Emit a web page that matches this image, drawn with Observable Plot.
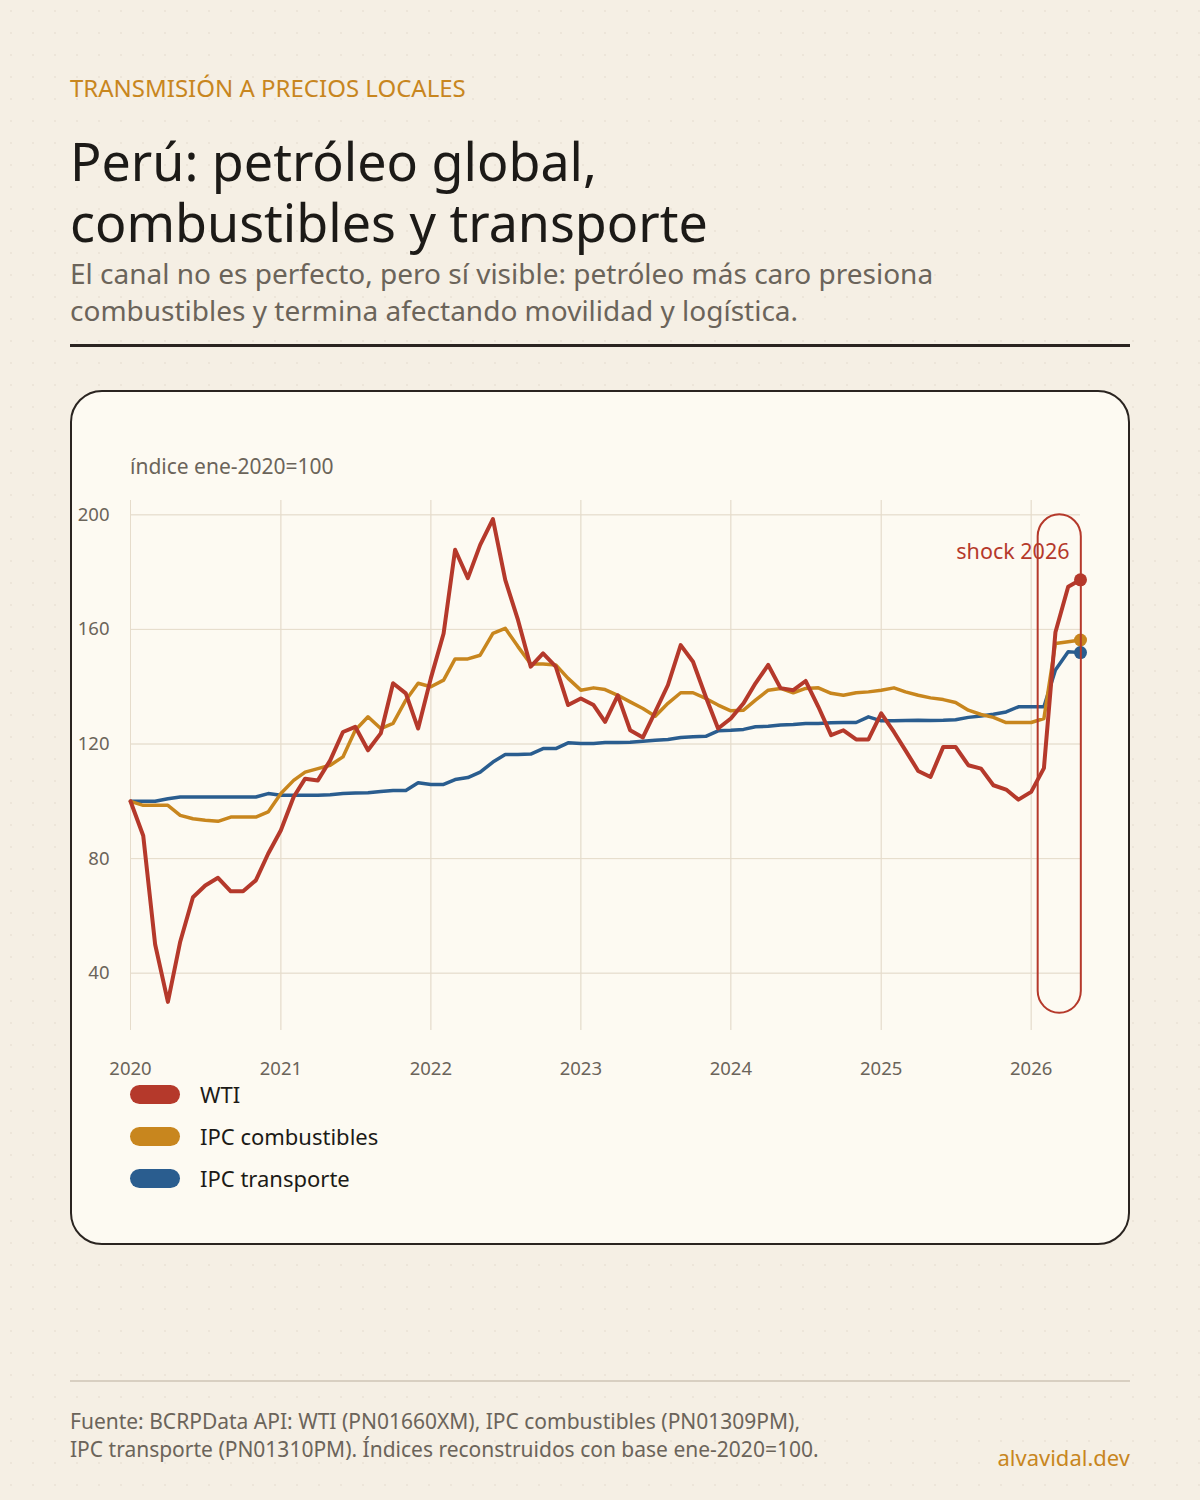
<!DOCTYPE html>
<html lang="es">
<head>
<meta charset="utf-8">
<script src="https://cdn.jsdelivr.net/npm/d3@7"></script>
<script src="https://cdn.jsdelivr.net/npm/@observablehq/plot@0.6"></script>
<style>
  html, body { margin: 0; padding: 0; }
  body {
    width: 1200px; height: 1500px; position: relative; overflow: hidden;
    background-color: #f5efe4;
    background-image: radial-gradient(rgba(120,100,70,0.07) 1px, transparent 1.2px);
    background-size: 22px 22px;
    font-family: "Noto Sans", sans-serif;
  }
  .abs { position: absolute; }
  #kicker { left: 70px; top: 71px; font-size: 24px; color: #c8861e; }
  #title { left: 70px; top: 130px; font-size: 52px; line-height: 61px; color: #1c1a17; font-weight: 400; margin: 0; }
  #subtitle { left: 70px; top: 255px; font-size: 28px; line-height: 37px; color: #6b645a; }
  #rule { left: 70px; top: 344px; width: 1060px; height: 3px; background: #2a2420; }
  #card { left: 70px; top: 390px; width: 1056px; height: 851px; border: 2px solid #2a2420; border-radius: 32px; background: #fdfaf2; }
  #ylabel { left: 130px; top: 452px; font-size: 21px; color: #6b645a; }
  #chart { left: 70px; top: 490px; }
  #legend { left: 130px; top: 1073px; }
  .row { display: flex; align-items: center; height: 42px; font-size: 22px; color: #1c1a17; }
  .sw { width: 50px; height: 19px; border-radius: 10px; margin-right: 20px; }
  #frule { left: 70px; top: 1380px; width: 1060px; height: 2px; background: #d8cfc1; }
  #source { left: 70px; top: 1407px; font-size: 21px; line-height: 28px; color: #6b645a; }
  #brand { right: 70px; top: 1442px; font-size: 22px; color: #c8861e; }
</style>
</head>
<body>
<div id="kicker" class="abs">TRANSMISIÓN A PRECIOS LOCALES</div>
<h1 id="title" class="abs">Perú: petróleo global,<br>combustibles y transporte</h1>
<div id="subtitle" class="abs">El canal no es perfecto, pero sí visible: petróleo más caro presiona<br>combustibles y termina afectando movilidad y logística.</div>
<div id="rule" class="abs"></div>
<div id="card" class="abs"></div>
<div id="ylabel" class="abs">índice ene-2020=100</div>
<div id="chart" class="abs"></div>
<div id="legend" class="abs"></div>
<div id="frule" class="abs"></div>
<div id="source" class="abs">Fuente: BCRPData API: WTI (PN01660XM), IPC combustibles (PN01309PM),<br>IPC transporte (PN01310PM). Índices reconstruidos con base ene-2020=100.</div>
<div id="brand" class="abs">alvavidal.dev</div>

<script>
// Monthly series, Jan 2020 – May 2026 (index ene-2020 = 100)
const startMonth = "2020-01-01";
const endMonth = "2026-05-01";

const wti = [
  100, 88, 50, 30, 51, 66.5, 70.6, 73.3, 68.6, 68.6, 72.4, 81.7,
  89.9, 101.5, 107.9, 107.3, 114.3, 124.2, 126, 117.8, 123.7, 141.2, 137.7, 125.4,
  143, 158.6, 187.8, 177.9, 189.5, 198.5, 177.3, 163.3, 147, 151.6, 147, 133.6,
  135.9, 133.6, 127.7, 137, 124.8, 122.3, 131.2, 140.6, 154.5, 148.7, 136.5, 125.4,
  128.9, 134.2, 141.2, 147.6, 139.5, 138.8, 142, 133, 123.1, 124.8, 121.6, 121.6,
  130.7, 124.2, 117.8, 110.6, 108.5, 119, 119, 112.6, 111.4, 105.6, 104.1, 100.6,
  103.3, 111.6, 159, 174.9, 177.3
];
const ipcCombustibles = [
  100, 98.6, 98.6, 98.6, 95.1, 93.9, 93.4, 93.0, 94.5, 94.5, 94.5, 96.3,
  102.7, 107.3, 110.2, 111.4, 112.6, 115.5, 124.8, 129.5, 125.4, 127.2, 135.3, 141.2,
  140.0, 142.3, 149.7, 149.7, 151.0, 158.6, 160.4, 154.0, 147.9, 147.9, 147.6, 142.9,
  138.8, 139.6, 139.0, 137.0, 134.7, 132.4, 129.7, 134.2, 137.9, 137.9, 135.9, 133.6,
  131.6, 131.8, 135.3, 138.8, 139.4, 137.9, 139.4, 139.6, 137.7, 137.0, 137.9, 138.2,
  138.8, 139.6, 138.2, 137.0, 136.1, 135.5, 134.5, 131.8, 130.3, 129.3, 127.5, 127.5,
  127.5, 128.9, 155.1, 155.7, 156.3
];
const ipcTransporte = [
  100, 100, 100, 100.9, 101.5, 101.5, 101.5, 101.5, 101.5, 101.5, 101.5, 102.7,
  102.1, 102.1, 102.1, 102.1, 102.3, 102.7, 102.9, 103.0, 103.4, 103.8, 103.8, 106.5,
  105.9, 105.9, 107.6, 108.3, 110.2, 113.7, 116.3, 116.3, 116.5, 118.4, 118.4, 120.4,
  120.2, 120.2, 120.5, 120.5, 120.6, 121.0, 121.3, 121.6, 122.3, 122.5, 122.7, 124.6,
  124.8, 125.1, 126.0, 126.2, 126.6, 126.8, 127.2, 127.2, 127.4, 127.5, 127.5, 129.5,
  128.1, 128.1, 128.2, 128.3, 128.2, 128.3, 128.5, 129.3, 129.8, 130.4, 131.2, 133.0,
  133.0, 133.0, 145.8, 152.2, 151.9
];

const seriesNames = ["WTI", "IPC combustibles", "IPC transporte"];
const seriesColors = ["#b5392b", "#c8861e", "#2a5d8f"];
const yTicks = [40, 80, 120, 160, 200];

// Shock annotation window
const shockLabel = "shock 2026";
const shockStart = "2026-01-18";
const shockEnd = "2026-05-03";
const shockLow = 26;
const shockHigh = 200;
const shockLabelY = 187;

const months = d3.utcMonth.range(new Date(startMonth), d3.utcMonth.offset(new Date(endMonth), 1));
const allValues = [wti, ipcCombustibles, ipcTransporte];
const data = [];
seriesNames.forEach((name, s) => {
  allValues[s].forEach((v, i) => data.push({date: months[i], value: v, serie: name}));
});
const lastPoints = seriesNames.map((name, s) => ({date: months[allValues[s].length - 1], value: allValues[s][allValues[s].length - 1], serie: name}));

const colorScale = {domain: seriesNames, range: seriesColors};

const chart = Plot.plot({
  width: 1060,
  height: 590,
  marginLeft: 60,
  marginRight: 50,
  marginTop: 10,
  marginBottom: 50,
  style: {background: "transparent", fontFamily: "Noto Sans, sans-serif", fontSize: "18.5px", color: "#6b645a"},
  x: {type: "utc", domain: [new Date(startMonth), new Date(endMonth)], ticks: d3.utcYear.every(1), tickFormat: d3.utcFormat("%Y"), tickSize: 0, tickPadding: 31, label: null, grid: true},
  y: {domain: [20, 205], ticks: yTicks, tickSize: 0, tickPadding: 21, label: null, grid: true},
  color: colorScale,
  marks: [
    Plot.gridX({ticks: d3.utcYear.every(1), stroke: "#e6dccb", strokeOpacity: 1, strokeWidth: 1}),
    Plot.gridY(yTicks, {stroke: "#e6dccb", strokeOpacity: 1, strokeWidth: 1}),
    Plot.line(data.filter(d => d.serie === "IPC transporte"), {x: "date", y: "value", stroke: "serie", strokeWidth: 3.5, strokeLinejoin: "round"}),
    Plot.line(data.filter(d => d.serie === "IPC combustibles"), {x: "date", y: "value", stroke: "serie", strokeWidth: 3.5, strokeLinejoin: "round"}),
    Plot.line(data.filter(d => d.serie === "WTI"), {x: "date", y: "value", stroke: "serie", strokeWidth: 4, strokeLinejoin: "round"}),
    Plot.dot(lastPoints, {x: "date", y: "value", fill: "serie", r: 6.5}),
    Plot.rect([{x1: new Date(shockStart), x2: new Date(shockEnd), y1: shockLow, y2: shockHigh}], {x1: "x1", x2: "x2", y1: "y1", y2: "y2", rx: 22, fill: "none", stroke: "#b5392b", strokeWidth: 2}),
    Plot.text([{x: new Date(endMonth), y: shockLabelY, t: shockLabel}], {x: "x", y: "y", text: "t", textAnchor: "end", dx: -11, fill: "#b5392b", fontSize: 21.5})
  ]
});
chart.querySelectorAll("[aria-label='y-axis tick label'] text, [aria-label='x-axis tick label'] text").forEach(t => t.setAttribute("fill", "#6b645a"));
document.getElementById("chart").appendChild(chart);

const legend = document.getElementById("legend");
seriesNames.forEach((name, i) => {
  const row = document.createElement("div");
  row.className = "row";
  const sw = document.createElement("div");
  sw.className = "sw";
  sw.style.background = seriesColors[i];
  const lab = document.createElement("span");
  lab.textContent = name;
  row.appendChild(sw); row.appendChild(lab);
  legend.appendChild(row);
});
</script>
</body>
</html>
